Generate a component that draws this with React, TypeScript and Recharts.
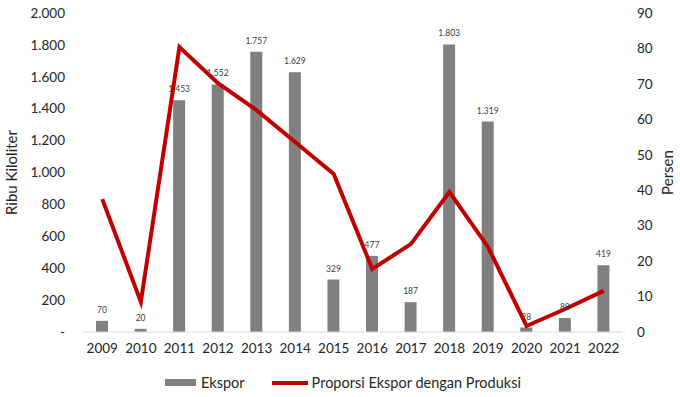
import React from "react";
import { ComposedChart, Bar, Line, XAxis, YAxis, LabelList, Legend } from "recharts";

const years = ["2009","2010","2011","2012","2013","2014","2015","2016","2017","2018","2019","2020","2021","2022"];
const ekspor = [70, 20, 1453, 1552, 1757, 1629, 329, 477, 187, 1803, 1319, 28, 88, 419];
const proporsi = [37.5, 8.5, 80.4, 70.2, 62.6, 53.6, 44.6, 17.8, 24.8, 39.5, 24.0, 1.7, 6.5, 11.6];
const leftTicks = [0, 200, 400, 600, 800, 1000, 1200, 1400, 1600, 1800, 2000];
const rightTicks = [0, 10, 20, 30, 40, 50, 60, 70, 80, 90];

const data = years.map((y, i) => ({ year: y, ekspor: ekspor[i], proporsi: proporsi[i] }));

const FONT = "Lato, 'Liberation Sans', sans-serif";
const fmt = (v: number) => (v === 0 ? "-" : v.toLocaleString("de-DE"));

const renderLegend = () => (
  <div style={{ display: "flex", alignItems: "center", fontFamily: FONT, fontSize: 14.5, lineHeight: "17px", height: 17, color: "#262626", paddingLeft: 165 }}>
    <span style={{ display: "inline-block", width: 31, height: 7, background: "#808080", marginRight: 5 }} />
    <span style={{ marginRight: 27 }}>Ekspor</span>
    <span style={{ display: "inline-block", width: 36, height: 4, background: "#c00000", marginRight: 4 }} />
    <span>Proporsi Ekspor dengan Produksi</span>
  </div>
);

export default function App() {
  return (
    <div style={{ position: "absolute", left: 0, top: 0, background: "#fff" }}>
      <ComposedChart width={680} height={397} data={data} margin={{ top: 13, right: 0, bottom: 0, left: 0 }} style={{ fontFamily: FONT }}>
        <XAxis
          dataKey="year"
          axisLine={{ stroke: "#d9d9d9" }}
          tickLine={false}
          tickSize={0}
          tickMargin={11}
          height={48}
          tick={{ fill: "#262626", fontSize: 13.5, fontFamily: FONT }}
          interval={0}
        />
        <YAxis
          yAxisId="left"
          domain={[0, 2000]}
          ticks={leftTicks}
          tickFormatter={fmt}
          axisLine={false}
          tickLine={false}
          tickSize={0}
          tickMargin={18}
          width={83}
          tick={{ fill: "#262626", fontSize: 13.5, fontFamily: FONT }}
          label={{ value: "Ribu Kiloliter", angle: -90, position: "insideLeft", offset: 12, style: { textAnchor: "middle", fill: "#262626", fontSize: 15, fontFamily: FONT } }}
        />
        <YAxis
          yAxisId="right"
          orientation="right"
          domain={[0, 90]}
          ticks={rightTicks}
          axisLine={false}
          tickLine={false}
          tickSize={0}
          tickMargin={14}
          width={57}
          tick={{ fill: "#262626", fontSize: 13.5, fontFamily: FONT }}
          label={{ value: "Persen", angle: -90, position: "insideRight", offset: 12, style: { textAnchor: "middle", fill: "#262626", fontSize: 15, fontFamily: FONT } }}
        />
        <Legend verticalAlign="bottom" content={renderLegend} wrapperStyle={{ bottom: 6 }} />
        <Bar yAxisId="left" dataKey="ekspor" name="Ekspor" fill="#808080" barSize={12} isAnimationActive={false}>
          <LabelList dataKey="ekspor" position="top" offset={8} formatter={(v: any) => Number(v).toLocaleString("de-DE")} style={{ fill: "#404040", fontSize: 8.5, fontFamily: FONT }} />
        </Bar>
        <Line yAxisId="right" dataKey="proporsi" name="Proporsi Ekspor dengan Produksi" stroke="#c00000" strokeWidth={4} dot={false} activeDot={false} isAnimationActive={false} />
      </ComposedChart>
    </div>
  );
}
